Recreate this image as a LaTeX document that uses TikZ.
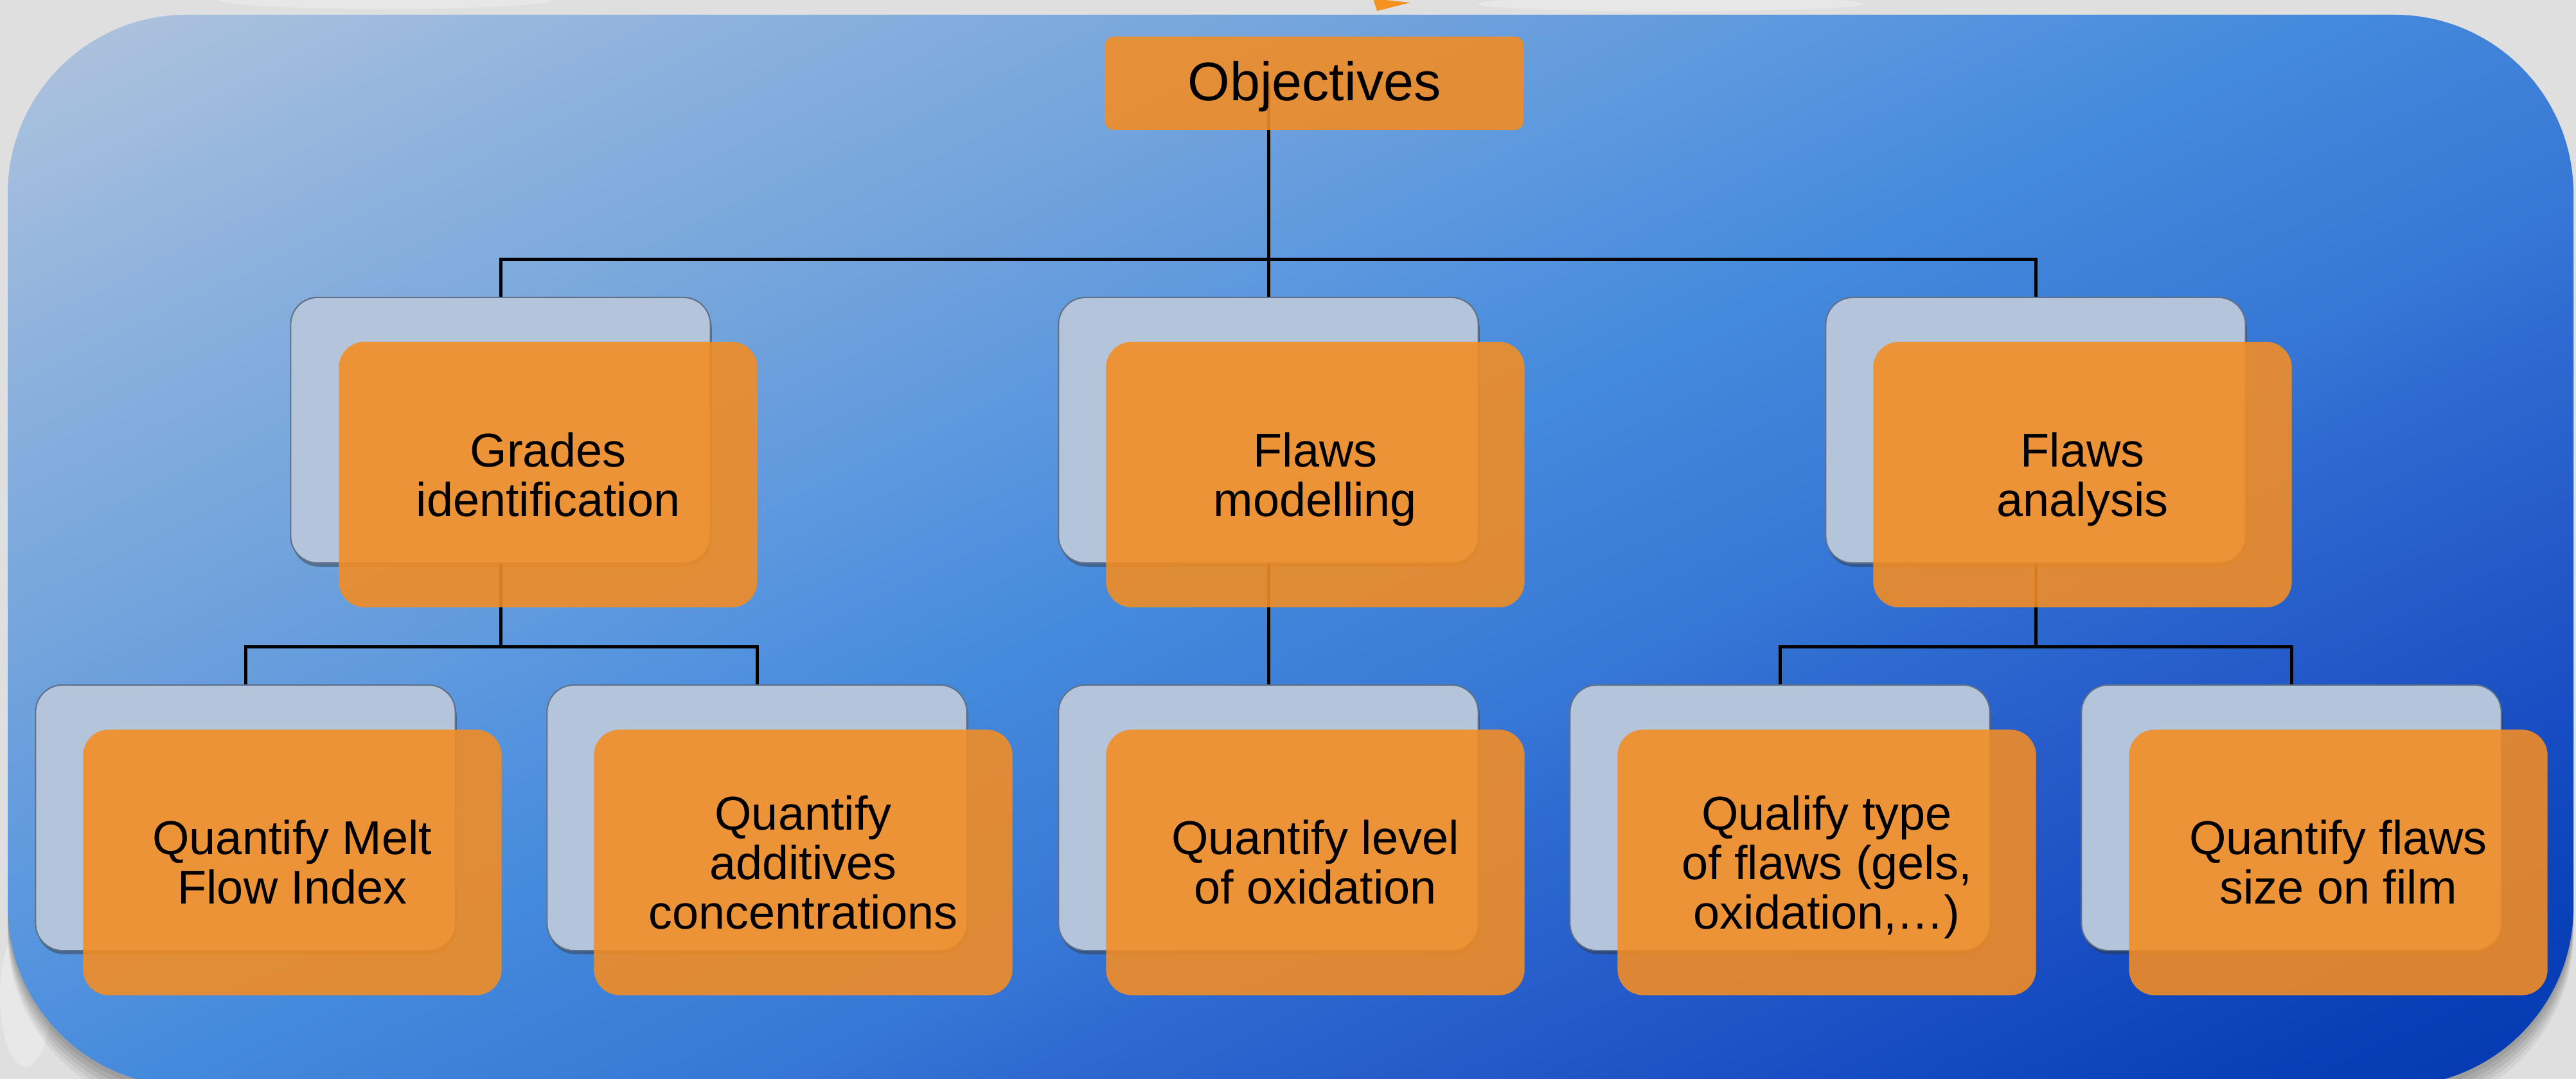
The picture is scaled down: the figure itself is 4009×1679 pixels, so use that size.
\documentclass[tikz,border=0pt]{standalone}
\usepackage{fontspec}
\setmainfont{Liberation Sans}
\usetikzlibrary{shadows}
\definecolor{bggray}{RGB}{223,223,223}
\definecolor{orng}{RGB}{243,141,35}
\definecolor{backfill}{RGB}{180,197,219}
\definecolor{backedge}{RGB}{95,112,138}
\pgfdeclarehorizontalshading{bluegrad}{100bp}{%
rgb(0bp)=(0.690,0.769,0.871);
rgb(30bp)=(0.686,0.765,0.867);
rgb(36bp)=(0.549,0.694,0.867);
rgb(41bp)=(0.451,0.643,0.863);
rgb(46bp)=(0.345,0.584,0.871);
rgb(49.5bp)=(0.267,0.541,0.863);
rgb(55bp)=(0.212,0.463,0.835);
rgb(57bp)=(0.180,0.416,0.816);
rgb(61bp)=(0.137,0.345,0.784);
rgb(67.5bp)=(0.031,0.251,0.722);
rgb(71bp)=(0.016,0.212,0.682);
rgb(100bp)=(0.016,0.212,0.682)}
\newcommand\mycardfont{\fontsize{21}{21.9}\selectfont}
\newcommand\myobjfont{\fontsize{24}{28}\selectfont}
\pgfdeclarelayer{bglayer}
\pgfdeclarelayer{linelayer}
\pgfsetlayers{bglayer,linelayer,main}
\tikzset{
  backcard/.style={draw=backedge, line width=0.6pt, fill=backfill,
    rounded corners=0.42cm, minimum width=6.53cm, minimum height=4.13cm,
    inner sep=0pt, outer sep=0pt,
    drop shadow={shadow xshift=0.6pt, shadow yshift=-1.6pt, opacity=0.45, fill=black!80}},
  frontcard/.style={fill=orng, fill opacity=0.89, text opacity=1,
    rounded corners=0.4cm, minimum width=6.51cm, minimum height=4.13cm,
    inner sep=0pt, outer sep=0pt, align=center, font=\mycardfont, text=black},
  objbox/.style={fill=orng, fill opacity=0.89, text opacity=1,
    rounded corners=0.13cm, minimum width=6.51cm, minimum height=1.45cm,
    inner sep=0pt, outer sep=0pt, font=\myobjfont, text=black,
    text height=0.6cm, text depth=0.07cm},
  conn/.style={line width=0.05cm, draw=black, line join=miter}
}
\begin{document}
\begin{tikzpicture}[x=0.01cm, y=-0.01cm]
\useasboundingbox (0,0) rectangle (4009,1679);
\begin{pgfonlayer}{bglayer}
  \fill[bggray] (0,0) rectangle (4009,1679);
  \fill[white, opacity=0.25] (600,0) ellipse (260 and 14);
  \fill[white, opacity=0.25] (2600,6) ellipse (300 and 12);
  \fill[white, opacity=0.3] (40,1550) ellipse (40 and 110);
  \fill[white, opacity=0.25] (3950,300) ellipse (40 and 120);
  \foreach \s/\o in {8/0.07,16/0.07,24/0.07,32/0.06,40/0.05}{
    \fill[black, opacity=\o, rounded corners=2.78cm] (12,23+\s) rectangle (4005,1690+\s);
  }
  \begin{scope}
    \clip[rounded corners=2.78cm] (12,23) rectangle (4005,1690);
    \shade[shading=bluegrad, shading angle=-64.1]
      (8.5,-1143.5) rectangle (4008.5,2856.5);
  \end{scope}
  \fill[orng!95!yellow] (2137,-2) -- (2195,4) -- (2143,17) -- cycle;
\end{pgfonlayer}

% Level 1
\node[objbox] (obj) at (2045.5,129.5) {Objectives};

% Level 2
\node[backcard] (b1) at (779,669.5) {};
\node[frontcard] (f1) at (853,738.5) {Grades\\identification};
\node[backcard] (b2) at (1974,669.5) {};
\node[frontcard] (f2) at (2047,738.5) {Flaws\\\smash{modelling}};
\node[backcard] (b3) at (3168,669.5) {};
\node[frontcard] (f3) at (3241,738.5) {Flaws\\\smash{analysis}};

% Level 3
\node[backcard] (c1) at (382,1272.5) {};
\node[frontcard] (g1) at (455,1342) {Quantify Melt\\Flow Index};
\node[backcard] (c2) at (1178,1272.5) {};
\node[frontcard] (g2) at (1250,1342) {Quantify\\additives\\concentrations};
\node[backcard] (c3) at (1974,1272.5) {};
\node[frontcard] (g3) at (2047,1342) {Quantify level\\of oxidation};
\node[backcard] (c4) at (2770,1272.5) {};
\node[frontcard] (g4) at (2843,1342) {Qualify type\\of flaws (gels,\\\smash{oxidation,…)}};
\node[backcard] (c5) at (3566,1272.5) {};
\node[frontcard] (g5) at (3639,1342) {Quantify flaws\\size on film};

\coordinate (busA) at (1974,403);
\coordinate (busB) at (779,1006);

\begin{pgfonlayer}{linelayer}
  \draw[conn] (obj.center -| b2.north) -- (b2.north);
  \draw[conn] (b1.north) -- (b1.north |- busA) -- (b3.north |- busA) -- (b3.north);
  \draw[conn] (b1.center) -- (b1.center |- busB);
  \draw[conn] (c1.north) -- (c1.north |- busB) -- (c2.north |- busB) -- (c2.north);
  \draw[conn] (b2.center) -- (c3.north);
  \draw[conn] (b3.center) -- (b3.center |- busB);
  \draw[conn] (c4.north) -- (c4.north |- busB) -- (c5.north |- busB) -- (c5.north);
\end{pgfonlayer}
\end{tikzpicture}
\end{document}
